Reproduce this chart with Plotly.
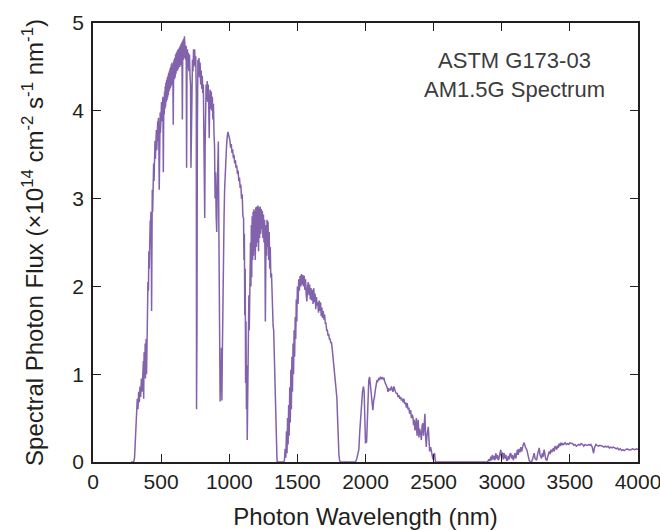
import plotly.graph_objects as go

# ---- data (wavelength in nm, flux in 1e14 cm^-2 s^-1 nm^-1)
vis_nm = [280, 295, 300, 305, 310, 315, 320, 325, 330, 335, 340, 345, 350, 355, 360, 365, 370, 372, 375, 380,
          383, 385, 390, 393, 395, 397, 400, 403, 405, 407, 410, 413, 415, 418, 420, 423, 425, 428, 430, 432,
          435, 438, 440, 443, 445, 448, 450, 453, 455, 458, 460, 463, 465, 468, 470, 473, 475, 478, 480, 483,
          486, 488, 490, 493, 495, 498, 500, 503, 505, 508, 510, 513, 516, 518, 520, 523, 525, 528, 530, 533,
          535, 538, 540, 543, 545, 548, 550, 553, 555, 558, 560, 563, 565, 568, 570, 573, 575, 578, 580, 583,
          586, 589, 592, 595, 598, 600, 603, 606, 609, 612, 615, 618, 621, 624, 627, 630, 634, 637, 640, 643,
          646, 649, 652, 656, 659, 662, 665, 668, 671, 674, 677, 680, 684, 687, 690, 693, 696, 700, 704, 708,
          712, 716, 719, 722, 726, 730, 734, 738, 742, 746, 750, 754, 758, 760, 763, 766, 770, 774, 778, 782,
          786, 790, 794, 798, 802, 806, 810, 814, 817, 820, 823, 826, 830, 834, 838, 842, 846, 850, 853, 856,
          860, 864, 868, 872, 876, 880, 884, 888, 892, 896, 900, 904, 908, 912, 916, 920, 924, 927, 930, 933,
          936, 940, 943, 946, 949, 952, 955, 958, 962, 966, 970, 975, 980, 985, 990, 995, 1000]
vis_flux = [0, 0, 0.01, 0.05, 0.22, 0.45, 0.62, 0.72, 0.60, 0.80, 0.68, 0.86, 0.74, 0.95, 0.80, 1.08, 1.15, 0.72, 1.25, 1.05,
            1.35, 0.95, 1.40, 1.00, 1.62, 1.20, 1.70, 2.05, 2.30, 1.95, 2.40, 2.20, 2.65, 2.40, 2.75, 2.55, 2.85, 2.60, 1.72, 2.90,
            3.10, 2.85, 3.25, 3.05, 3.40, 3.20, 3.62, 3.35, 3.66, 3.45, 3.72, 3.50, 3.78, 3.55, 3.82, 3.60, 3.88, 3.66, 3.92, 3.70,
            3.10, 3.90, 3.68, 3.98, 3.75, 4.04, 3.82, 4.10, 3.88, 4.14, 3.92, 4.16, 3.30, 3.90, 4.15, 3.96, 4.22, 4.02, 4.28, 4.05,
            4.32, 4.10, 4.35, 4.12, 4.38, 4.15, 4.40, 4.18, 4.43, 4.22, 4.45, 4.24, 4.48, 4.26, 4.50, 4.28, 4.53, 4.30, 4.55, 4.32,
            4.45, 3.84, 4.52, 4.58, 4.36, 4.60, 4.38, 4.64, 4.42, 4.66, 4.45, 4.68, 4.46, 4.70, 4.48, 4.62, 4.72, 4.50, 4.74, 4.52,
            4.76, 4.55, 4.78, 3.90, 4.80, 4.58, 4.82, 4.60, 4.85, 4.62, 4.80, 4.58, 4.74, 3.35, 4.55, 4.70, 4.48, 4.66, 4.45, 4.64,
            4.40, 4.30, 3.35, 4.00, 4.42, 4.58, 4.45, 4.70, 4.52, 4.70, 4.50, 4.62, 4.20, 0.60, 1.50, 3.80, 4.58, 4.40, 4.60, 4.38,
            4.55, 4.30, 4.46, 4.25, 4.40, 4.20, 4.30, 3.90, 3.20, 2.78, 3.60, 4.10, 4.30, 4.12, 4.34, 4.10, 4.30, 4.00, 3.69, 4.05,
            4.24, 4.02, 4.22, 4.00, 4.16, 3.90, 4.08, 3.75, 3.60, 3.00, 3.30, 2.80, 2.62, 3.10, 3.40, 3.65, 2.60, 1.90, 1.20, 0.69,
            1.10, 0.80, 1.30, 0.70, 1.20, 1.70, 2.10, 2.40, 2.80, 3.10, 3.30, 3.46, 3.60, 3.70, 3.76, 3.73, 3.70]

nir1_nm = [1005, 1010, 1015, 1020, 1025, 1030, 1035, 1040, 1045, 1050, 1055, 1060, 1065, 1070, 1075, 1080, 1085, 1090, 1095, 1100,
           1105, 1108, 1111, 1114, 1117, 1120, 1123, 1126, 1129, 1132, 1135, 1138, 1141, 1144, 1147, 1150, 1153, 1156, 1159, 1162,
           1165, 1168, 1172, 1175, 1178, 1181, 1184, 1187, 1191, 1195, 1199, 1203, 1207, 1211, 1215, 1219, 1223, 1227, 1231, 1235,
           1239, 1243, 1247, 1251, 1255, 1259, 1262, 1265, 1268, 1271, 1274, 1277, 1281, 1285, 1289, 1293, 1297, 1301, 1305, 1310,
           1314, 1318, 1322, 1326, 1330, 1334, 1338, 1342, 1346, 1350, 1352, 1360]
nir1_flux = [3.66, 3.58, 3.62, 3.52, 3.56, 3.46, 3.50, 3.40, 3.44, 3.35, 3.38, 3.28, 3.32, 3.20, 3.24, 3.12, 3.16, 3.00, 3.05, 2.80,
             2.78, 2.30, 2.60, 1.67, 2.20, 0.90, 1.60, 0.60, 1.10, 0.25, 0.90, 0.45, 1.20, 1.90, 1.50, 2.30, 1.71, 2.50, 2.00, 2.70,
             2.10, 2.80, 2.30, 2.85, 2.35, 2.88, 2.40, 2.86, 2.30, 2.90, 2.45, 2.91, 2.50, 2.92, 2.40, 2.90, 2.55, 2.91, 2.60, 2.88,
             2.65, 2.86, 2.55, 2.82, 2.50, 2.76, 2.40, 1.60, 2.20, 2.70, 2.35, 2.76, 2.45, 2.74, 2.30, 2.62, 2.20, 2.45, 2.10, 2.15,
             1.85, 1.90, 1.55, 1.50, 1.20, 1.15, 0.85, 0.60, 0.30, 0.05, 0, 0]

nir2_nm = [1400, 1405, 1410, 1415, 1420, 1424, 1428, 1432, 1436, 1440, 1444, 1448, 1452, 1456, 1460, 1464, 1468, 1472, 1476, 1480,
           1484, 1488, 1492, 1496, 1500, 1505, 1510, 1515, 1520, 1525, 1530, 1535, 1540, 1545, 1550, 1555, 1560, 1565, 1570, 1575,
           1580, 1585, 1590, 1595, 1600, 1605, 1610, 1615, 1620, 1625, 1630, 1635, 1640, 1645, 1650, 1655, 1660, 1665, 1670, 1675,
           1680, 1685, 1690, 1695, 1700, 1705, 1710, 1715, 1720, 1725, 1730, 1735, 1740, 1745, 1750, 1755, 1760, 1765, 1770, 1775,
           1780, 1785, 1790, 1795, 1800, 1805, 1810, 1815]
nir2_flux = [0, 0.02, 0.15, 0.05, 0.35, 0.10, 0.50, 0.20, 0.65, 0.30, 0.85, 0.45, 1.05, 0.60, 1.20, 0.80, 1.35, 1.00, 1.50, 1.20,
             1.65, 1.40, 1.85, 1.60, 2.00, 1.80, 2.08, 1.95, 2.12, 2.00, 2.14, 2.02, 2.13, 2.00, 2.12, 1.96, 2.08, 1.90, 1.83, 2.00,
             2.05, 1.90, 2.02, 1.85, 1.98, 1.84, 1.96, 1.80, 1.98, 1.82, 1.92, 1.74, 1.88, 1.78, 1.82, 1.70, 1.84, 1.72, 1.82, 1.66,
             1.76, 1.64, 1.72, 1.62, 1.68, 1.58, 1.58, 1.50, 1.50, 1.44, 1.46, 1.40, 1.40, 1.36, 1.36, 1.30, 1.22, 1.10, 1.05, 0.95,
             0.85, 0.78, 0.73, 0.50, 0.21, 0.08, 0.02, 0]

nir3_nm = [1926, 1935, 1945, 1951, 1958, 1965, 1971, 1978, 1985, 1990, 1995, 2000, 2004, 2008, 2012, 2018, 2024, 2030, 2034, 2040,
           2047, 2054, 2060, 2066, 2072, 2078, 2084, 2090, 2097, 2104, 2110, 2117, 2124, 2130, 2135, 2140, 2147, 2153, 2159, 2165,
           2171, 2177, 2184, 2190, 2196, 2202, 2208, 2214, 2220, 2227, 2233, 2239, 2245, 2252, 2258, 2264, 2270, 2276, 2282, 2288,
           2294, 2300, 2306, 2312, 2318, 2324, 2331, 2337, 2343, 2348, 2353, 2358, 2363, 2368, 2373, 2378, 2383, 2387, 2392, 2397,
           2404, 2410, 2416, 2421, 2426, 2431, 2436, 2441, 2446, 2451, 2456, 2461, 2466, 2471, 2478, 2484, 2490, 2495, 2500, 2507,
           2511, 2515]
nir3_flux = [0, 0.03, 0.10, 0.14, 0.35, 0.55, 0.67, 0.80, 0.86, 0.80, 0.50, 0.21, 0.30, 0.22, 0.40, 0.70, 0.93, 0.97, 0.90, 0.80,
             0.62, 0.59, 0.70, 0.74, 0.82, 0.90, 0.93, 0.92, 0.95, 0.94, 0.97, 0.95, 0.96, 0.94, 0.96, 0.92, 0.90, 0.87, 0.85, 0.80,
             0.84, 0.82, 0.82, 0.86, 0.84, 0.80, 0.86, 0.82, 0.80, 0.78, 0.78, 0.74, 0.76, 0.72, 0.74, 0.70, 0.72, 0.68, 0.72, 0.66,
             0.68, 0.62, 0.67, 0.60, 0.62, 0.55, 0.59, 0.50, 0.54, 0.51, 0.42, 0.48, 0.36, 0.40, 0.50, 0.30, 0.42, 0.48, 0.28, 0.38,
             0.33, 0.25, 0.42, 0.44, 0.30, 0.50, 0.55, 0.30, 0.17, 0.30, 0.38, 0.40, 0.25, 0.12, 0.17, 0.10, 0.06, 0.03, 0.08, 0.10,
             0.03, 0]

mir_nm = [2895, 2905, 2912, 2920, 2926, 2931, 2937, 2943, 2950, 2956, 2962, 2968, 2974, 2980, 2986, 2993, 2999, 3005, 3011, 3017,
          3023, 3030, 3036, 3042, 3048, 3054, 3060, 3066, 3072, 3078, 3085, 3091, 3097, 3103, 3109, 3115, 3121, 3127, 3134, 3140,
          3146, 3152, 3158, 3164, 3170, 3176, 3184, 3190, 3196, 3201, 3210, 3218, 3226, 3232, 3238, 3244, 3250, 3256, 3262, 3268,
          3275, 3281, 3287, 3292, 3298, 3304, 3311, 3317, 3323, 3331, 3337, 3343, 3348, 3355, 3361, 3367, 3373, 3379, 3385, 3391,
          3397, 3403, 3409, 3415, 3421, 3428, 3434, 3440, 3446, 3455, 3465, 3474, 3483, 3492, 3501, 3510, 3520, 3529, 3538, 3547,
          3556, 3565, 3574, 3583, 3593, 3602, 3611, 3620, 3630, 3639, 3647, 3654, 3664, 3669, 3674, 3680, 3691, 3700, 3710, 3720,
          3730, 3740, 3750, 3760, 3770, 3780, 3790, 3801, 3810, 3820, 3830, 3840, 3850, 3860, 3870, 3880, 3890, 3899, 3910, 3920,
          3930, 3949, 3960, 3975, 3990, 4000]
mir_flux = [0, 0.03, 0.01, 0.06, 0.02, 0.08, 0.03, 0.07, 0.02, 0.10, 0.04, 0.08, 0.02, 0.04, 0.09, 0.14, 0.05, 0.11, 0.03, 0.10,
            0.04, 0.08, 0.02, 0.02, 0.07, 0.03, 0.09, 0.10, 0.04, 0.08, 0.02, 0.06, 0.10, 0.04, 0.12, 0.14, 0.08, 0.15, 0.11, 0.17,
            0.12, 0.18, 0.20, 0.22, 0.18, 0.16, 0.14, 0.08, 0.04, 0.02, 0.00, 0.00, 0.03, 0.06, 0.10, 0.04, 0.02, 0.02, 0.08, 0.12,
            0.16, 0.08, 0.04, 0.04, 0.10, 0.06, 0.14, 0.08, 0.03, 0.02, 0.06, 0.10, 0.12, 0.09, 0.14, 0.11, 0.14, 0.16, 0.12, 0.18,
            0.17, 0.14, 0.19, 0.16, 0.21, 0.18, 0.22, 0.19, 0.21, 0.20, 0.22, 0.20, 0.21, 0.20, 0.22, 0.21, 0.21, 0.19, 0.20, 0.18,
            0.19, 0.20, 0.19, 0.21, 0.20, 0.18, 0.20, 0.19, 0.19, 0.20, 0.19, 0.20, 0.17, 0.10, 0.10, 0.16, 0.20, 0.19, 0.18, 0.19,
            0.18, 0.18, 0.17, 0.18, 0.17, 0.18, 0.16, 0.17, 0.16, 0.17, 0.16, 0.15, 0.16, 0.14, 0.15, 0.13, 0.14, 0.13, 0.14, 0.15,
            0.14, 0.14, 0.15, 0.14, 0.15, 0.14]

x_ticks = [0, 500, 1000, 1500, 2000, 2500, 3000, 3500, 4000]
y_ticks = [0, 1, 2, 3, 4, 5]

wl = vis_nm + nir1_nm + nir2_nm + nir3_nm + mir_nm
fl = vis_flux + nir1_flux + nir2_flux + nir3_flux + mir_flux

LINE = "#8262aa"
AX = "#231f20"
FONT = "Liberation Sans, Arial, sans-serif"

fig = go.Figure()
fig.add_trace(go.Scatter(x=wl, y=fl, mode="lines", line=dict(color=LINE, width=1.5),
                         hoverinfo="skip", showlegend=False))

axis_common = dict(showline=True, linecolor=AX, linewidth=1.5, mirror="ticks",
                   ticks="inside", ticklen=8, tickwidth=1.3, tickcolor=AX,
                   showgrid=False, zeroline=False, automargin=False,
                   ticklabeloverflow="allow",
                   tickfont=dict(family=FONT, size=21, color=AX))

fig.update_layout(
    width=660, height=530,
    margin=dict(l=93, r=22, t=23, b=68),
    paper_bgcolor="white", plot_bgcolor="white",
    xaxis=dict(range=[0, 4000], tickvals=x_ticks, ticktext=[str(v) for v in x_ticks],
               ticklabelstandoff=0,
               title=dict(text="Photon Wavelength (nm)", font=dict(family=FONT, size=24, color=AX), standoff=16),
               **axis_common),
    yaxis=dict(range=[0, 5], tickvals=y_ticks, ticktext=[str(v) for v in y_ticks],
               ticklabelstandoff=3,
               title=dict(text="Spectral Photon Flux (×10<sup>14</sup> cm<sup>-2</sup> s<sup>-1</sup> nm<sup>-1</sup>)",
                          font=dict(family=FONT, size=24, color=AX), standoff=22),
               **axis_common),
    annotations=[dict(x=3095, y=4.41, xref="x", yref="y", showarrow=False,
                      text="ASTM G173-03<br>AM1.5G Spectrum",
                      font=dict(family=FONT, size=22, color="#3c3c3c"), align="center")],
)

fig.write_html("out.html", config={"displayModeBar": False},
               post_script="document.body.style.margin='0';document.body.style.overflow='hidden';")
